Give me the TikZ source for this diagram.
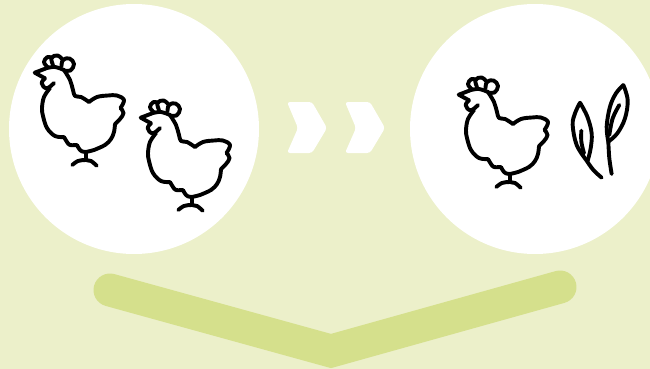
\documentclass[tikz,border=0pt]{standalone}
\definecolor{bgc}{HTML}{ECF0CA}
\definecolor{barc}{HTML}{D5E08C}
\tikzset{
  x=1pt,y=-1pt,
  ink/.style={draw=black,line width=3.9pt,line cap=round,line join=round},
  chev/.style={fill=white,rounded corners=3pt},
  chicken/.pic={
    \draw[ink] plot[smooth,tension=0.6] coordinates {(64,70) (70,80) (73,90) (75,96) (81,97) (89,102)};
    \draw[ink] plot[smooth,tension=0.6] coordinates {(89,102) (97,97) (108,95.5) (117,95.5) (124,100) (120.5,108)};
    \draw[ink] plot[smooth,tension=0.7] coordinates {(120.5,108) (123.5,113) (120,119) (115,124)};
    \draw[ink] plot[smooth,tension=0.6] coordinates {(115,124) (114,132) (111,139) (105,145) (94,150)};
    \draw[ink] plot[smooth,tension=0.6] coordinates {(94,150) (85,152) (80,150) (77,145)};
    \draw[ink] plot[smooth,tension=0.6] coordinates {(77,145) (70,145) (67,142) (64,137)};
    \draw[ink] plot[smooth,tension=0.6] coordinates {(64,137) (55,136) (47,128) (43,116) (42,108) (44,97) (50,88)};
    % beak and wattle
    \draw[ink] (47,68) -- (34.7,72.7) -- (45,78.3);
    \draw[ink] plot[smooth,tension=0.7] coordinates {(45,78.3) (41.7,83.3) (46.7,88.3) (54,83)};
    \draw[ink] plot[smooth,tension=0.6] coordinates {(47,68) (55,67) (64,70)};
    % comb
    \draw[ink] plot[smooth,tension=0.7] coordinates {(47.5,67) (44,62) (47.5,57) (52,58)};
    \draw[ink] plot[smooth,tension=0.7] coordinates {(53,65) (51.5,58) (57.5,55.5) (63,60)};
    \draw[ink] plot[smooth,tension=0.7] coordinates {(61.5,66.5) (63,60) (69.5,58.5) (74,64) (70.5,70.5) (65,70.5)};
    % legs
    \draw[ink] (85.7,152) -- (85.7,160);
    \draw[ink] plot[smooth,tension=0.6] coordinates {(72.3,165) (78,161) (85.7,160) (91,161) (96.7,165.7)};
  },
  leaves/.pic={
    \begin{scope}[x=0.3333pt,y=-0.3333pt]
    \draw[ink] plot[smooth,tension=0.6] coordinates {(80,272) (50,225) (38,165) (45,130) (60,98)};
    \draw[ink] plot[smooth,tension=0.6] coordinates {(60,98) (82,140) (95,190) (92,235) (83,272)};
    \draw[ink] plot[smooth,tension=0.6] coordinates {(80,272) (100,300) (125,323)};
    \draw[ink] plot[smooth,tension=0.6] coordinates {(64,182) (64,215) (72,250)};
    \draw[ink] plot[smooth,tension=0.6] coordinates {(145,215) (140,170) (150,110) (168,70) (190,45)};
    \draw[ink] plot[smooth,tension=0.6] coordinates {(190,45) (203,90) (195,145) (172,190) (145,215)};
    \draw[ink] plot[smooth,tension=0.6] coordinates {(145,215) (148,265) (155,312)};
    \draw[ink] plot[smooth,tension=0.6] coordinates {(178,105) (158,145) (148,195)};
    \end{scope}
  }
}
\begin{document}
\begin{tikzpicture}
\useasboundingbox (0,0) rectangle (650,369);
\fill[bgc] (0,0) rectangle (650,369);
\begin{scope}
\clip (0,0) rectangle (650,369);
\fill[white] (134,129) circle[radius=125];
\fill[white] (535,129) circle[radius=125];
\draw[barc,line width=33pt,line cap=round,line join=miter] (110,290) -- (331,351) -- (560,287);
\end{scope}
\foreach \dx in {0,58}{
  \fill[chev,xshift=\dx pt] (287,102) -- (312,102) -- (327,128) -- (312,153) -- (287,153) -- (298,128) -- cycle;
}
\pic at (0,0) {chicken};
\pic at (106,45) {chicken};
\pic at (424,22) {chicken};
\pic at (560,70) {leaves};
\end{tikzpicture}
\end{document}
